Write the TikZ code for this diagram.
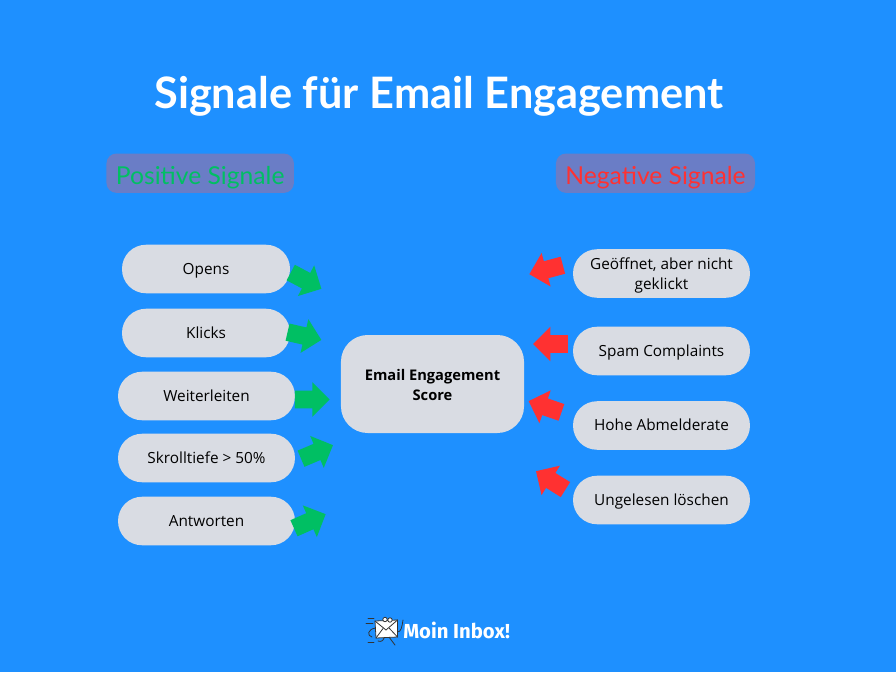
\documentclass[tikz,border=0pt]{standalone}
\usepackage{fontspec}
\setmainfont{Open Sans}
\newfontfamily\titlefont{Lato}
\newfontfamily\logofont{Fira Sans}
\usetikzlibrary{shapes.arrows}
\definecolor{bgblue}{HTML}{1E90FF}
\definecolor{pillgray}{HTML}{D9DCE3}
\definecolor{headbox}{HTML}{6A7DC6}
\definecolor{posgreen}{HTML}{00BF63}
\definecolor{negred}{HTML}{FF3131}
\definecolor{logoink}{HTML}{333333}
\tikzset{
    pill/.style={fill=pillgray,rounded corners=18pt,minimum height=36.4pt,inner sep=0pt,align=center,text=black,font=\fontsize{11.5}{15}\selectfont},
    oneline/.style={text height=10pt,text depth=2pt},
    leftpill/.style={pill,oneline,minimum width=126pt},
    widepill/.style={pill,minimum width=132.7pt},
    headlabel/.style={fill=headbox,rounded corners=7.5pt,minimum height=29.5pt,inner sep=0pt,text height=21.5pt,text depth=4pt,font=\titlefont\fontsize{18.5}{22}\selectfont},
    blockarrow/.style={single arrow,anchor=tip,single arrow head extend=6.4pt,minimum width=25.5pt,minimum height=26pt,inner xsep=0pt,inner ysep=6.4pt,draw=none},
    posarrow/.style={blockarrow,fill=posgreen},
    negarrow/.style={blockarrow,fill=negred},
    logoline/.style={draw=logoink,line width=.6pt,line cap=round},
}
\begin{document}
\begin{tikzpicture}[x=0.75pt,y=-0.75pt]
    \useasboundingbox (0,0) rectangle (896,672);
    \fill[bgblue] (0,0) rectangle (896,672);

    \node[text=white,inner sep=0pt,font=\titlefont\bfseries\fontsize{32.5}{38}\selectfont] (title) at (439,96.5) {Signale für Email Engagement};

    \node[headlabel,minimum width=140.6pt,text=posgreen] (poshead) at (200.2,173.2) {Positive Signale};
    \node[headlabel,minimum width=149.3pt,text=negred] (neghead) at (655.5,173.2) {Negative Signale};

    % left side
    \node[leftpill] (opens) at (206,269) {Opens};
    \node[leftpill] (klicks) at (206,333) {Klicks};
    \node[widepill,oneline] (weiter) at (206.5,396) {Weiterleiten};
    \node[widepill,oneline] (skroll) at (206.5,458) {Skrolltiefe > 50\%};
    \node[widepill,oneline] (antworten) at (206.5,521) {Antworten};

    % center
    \node[fill=pillgray,rounded corners=20pt,minimum width=137.3pt,minimum height=73.5pt,inner sep=0pt,align=center,font=\fontsize{11}{15}\selectfont\bfseries] (score) at (432.5,384) {\rule{0pt}{10pt}Email Engagement\\Score};

    % right side
    \node[widepill] (geoeffnet) at (661.5,273.5) {\rule{0pt}{11.5pt}Geöffnet, aber nicht\\geklickt};
    \node[widepill,oneline] (spam) at (661.5,351) {Spam Complaints};
    \node[widepill,oneline] (abmelde) at (661.5,425.5) {Hohe Abmelderate};
    \node[widepill,oneline] (geloescht) at (661.5,500) {Ungelesen löschen};

    % arrows
    \node[posarrow,rotate=-28] (parrowa) at (321.7,289) {};
    \node[posarrow,rotate=-13] (parrowb) at (321.7,340) {};
    \node[posarrow] (parrowc) at (330,399.5) {};
    \node[posarrow,rotate=23] (parrowd) at (333.3,445) {};
    \node[posarrow,rotate=24] (parrowe) at (326,514) {};

    \node[negarrow,rotate=195] (narrowa) at (529,274.3) {};
    \node[negarrow,rotate=180] (narrowb) at (532.7,344) {};
    \node[negarrow,rotate=161] (narrowc) at (528.3,401) {};
    \node[negarrow,rotate=148] (narrowd) at (535.7,471) {};

    % logo
    \coordinate (envnw) at (375,621);
    \coordinate (envne) at (397.5,620);
    \coordinate (envse) at (397.5,637);
    \coordinate (envsw) at (376,638);
    \coordinate (envmid) at (386,630);
    \draw[logoline] (368,618.5) -- (374,618.5);
    \draw[logoline] (366,623.5) -- (373,623.5);
    \draw[logoline] (368,642.5) -- (374,642.5);
    \draw[logoline] (376,628) .. controls (367,629) and (367,636) .. (372,637);
    \draw[logoline] (384,638) .. controls (383,641) and (381,642) .. (378,641);
    \draw[logoline] (389,637) -- (395,645);
    \draw[logoline] (397.5,632) .. controls (401,632) and (402,627) .. (403,620);
    \draw[logoline,fill=white] (envnw) -- (envne) -- (envse) -- (envsw) -- cycle;
    \draw[logoline] (envnw) -- (envmid) -- (envne);
    \draw[logoline] (envsw) -- (383,628.5);
    \draw[logoline] (envse) -- (389.5,628.5);
    \draw[logoline,fill=white] (385,619.5) circle (2.2);
    \draw[logoline,fill=white] (390,620) circle (2.2);
    \node[text=white,inner sep=0pt,anchor=west,font=\logofont\bfseries\fontsize{15.2}{18}\selectfont] (logotext) at (403,630.5) {Moin Inbox!};
\end{tikzpicture}
\end{document}
